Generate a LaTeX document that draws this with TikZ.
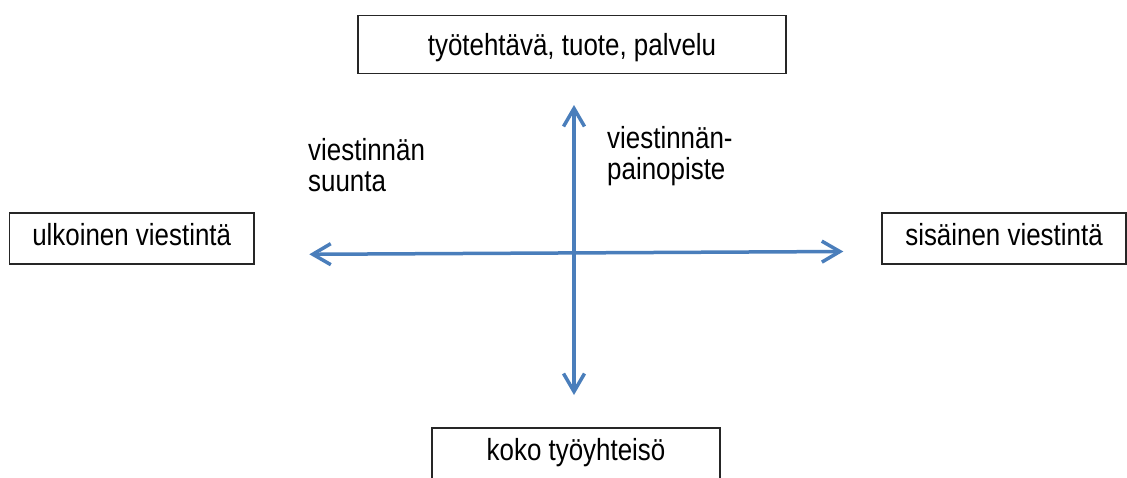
\documentclass[tikz,border=0pt]{standalone}
\usepackage{fontspec}
\setmainfont[FakeStretch=0.85]{Liberation Sans}
\usetikzlibrary{arrows.meta}
\definecolor{axisblue}{RGB}{74,126,187}
\begin{document}
\begin{tikzpicture}[x=1pt,y=-1pt,
  lab/.style={font=\fontsize{30.5}{31}\selectfont},
  box/.style={draw=black!85, line width=1.3pt, inner sep=0pt, lab},
  axis/.style={draw=axisblue, line width=3.5pt,
    {Straight Barb[length=18pt,width=21pt]}-{Straight Barb[length=18pt,width=21pt]}}
]
\useasboundingbox (0,0) rectangle (1127,477);
\clip (0,0) rectangle (1127,477);
% boxes
\node[box, minimum width=428pt, minimum height=58pt, text height=27.4pt, text depth=6pt]
  (top) at (572,44.3) {työtehtävä, tuote, palvelu};
\node[box, minimum width=244.7pt, minimum height=51pt, text height=20.2pt, text depth=6pt]
  (left) at (131.7,238.5) {ulkoinen viestintä};
\node[box, minimum width=244pt, minimum height=51pt, text height=20.2pt, text depth=6pt]
  (right) at (1004,238.5) {sisäinen viestintä};
\node[box, minimum width=288pt, minimum height=51pt, text height=21pt, text depth=6.5pt]
  (bottom) at (576,453.5) {koko työyhteisö};
% axes
\coordinate (vt) at (574,105);
\coordinate (vb) at (574,395);
\coordinate (hl) at (309.3,254.3);
\coordinate (hr) at (843.3,251.5);
\draw[axis] (vb) -- (vt);
\draw[axis] (hl) -- (hr);
% labels
\node[lab, anchor=base west, inner sep=0pt] (suunta) at (308,160)
  {\begin{tabular}[t]{@{}l@{}}viestinnän\\suunta\end{tabular}};
\node[lab, anchor=base west, inner sep=0pt] (paino) at (607,148)
  {\begin{tabular}[t]{@{}l@{}}viestinnän-\\painopiste\end{tabular}};
\end{tikzpicture}
\end{document}
